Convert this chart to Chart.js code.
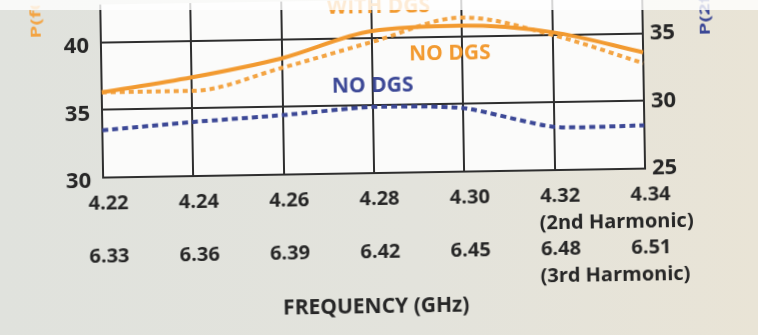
<!DOCTYPE html>
<html>
<head>
<meta charset="utf-8">
<script src="https://cdn.jsdelivr.net/npm/chart.js@4.4.1/dist/chart.umd.min.js"></script>
<style>
  html, body { margin: 0; padding: 0; }
  body {
    width: 758px; height: 335px; overflow: hidden; position: relative;
    background: linear-gradient(90deg, #e0e2dd 0%, #e3e3dc 55%, #e9e4d6 100%);
  }
  /* the scan is a little skewed, so the whole chart is turned by about one degree */
  #wrap { position: absolute; left: 0; top: 0; width: 758px; height: 335px; transform: rotate(-0.95deg); }
  #strip { position: absolute; left: 0; top: 0; width: 758px; height: 10px; background: rgba(255, 255, 255, 0.8); }
</style>
</head>
<body>
<div id="wrap"><canvas id="chart" width="758" height="335"></canvas></div>
<div id="strip"></div>
<script>
// data
const freqLabels = ['4.22', '4.24', '4.26', '4.28', '4.30', '4.32', '4.34'];
const thirdLabels = ['6.33', '6.36', '6.39', '6.42', '6.45', '6.48', '6.51'];
const harmonicNotes = ['(2nd Harmonic)', '(3rd Harmonic)'];
const withDgs = [36.3, 37.3, 38.6, 40.5, 40.8, 40.2, 38.6];
const noDgsFund = [36.3, 36.3, 37.9, 39.7, 41.4, 40.0, 37.8];
const noDgsHarm = [28.5, 29.0, 29.4, 29.9, 29.7, 28.2, 28.2];
const leftTicks = [30, 35, 40];
const rightTicks = [25, 30, 35];

const FONT = '"Open Sans", sans-serif';
const INK = '#262626';
const ORANGE = '#f29a30';
const ORANGE_LIGHT = '#f3a443';
const BLUE = '#3c4896';

// text tags placed in data coordinates (category index, axis value)
const seriesTags = [
    { text: 'WITH DGS', color: ORANGE, axis: 'y', at: 3.08, value: 42.3 },
    { text: 'NO DGS', color: ORANGE, axis: 'y', at: 3.86, value: 38.75 },
    { text: 'NO DGS', color: BLUE, axis: 'y2', at: 3.0, value: 31.4 }
];

const extras = {
    id: 'extras',
    beforeDraw(chart) {
        const a = chart.chartArea;
        const c = chart.ctx;
        c.save();
        c.fillStyle = '#fbfbfa';
        c.fillRect(a.left, a.top, a.right - a.left, a.bottom - a.top);
        c.restore();
    },
    afterDraw(chart) {
        const c = chart.ctx;
        const x = chart.scales.x;
        const bottom = chart.chartArea.bottom;
        c.save();
        c.textBaseline = 'middle';
        c.textAlign = 'center';
        c.font = 'bold 21px ' + FONT;
        seriesTags.forEach(t => {
            c.fillStyle = t.color;
            c.fillText(t.text, x.getPixelForValue(t.at), chart.scales[t.axis].getPixelForValue(t.value));
        });

        // harmonic notes under the last two columns
        c.fillStyle = INK;
        c.textAlign = 'left';
        c.font = 'bold 20px ' + FONT;
        const nx = x.getPixelForValue(5) - 16;
        c.fillText(harmonicNotes[0], nx, bottom + 53);
        c.fillText(harmonicNotes[1], nx, bottom + 106);

        // side titles, mostly cut off by the top of the scan
        c.font = 'bold 21px ' + FONT;
        c.translate(39, 33);
        c.rotate(-Math.PI / 2);
        c.scale(1, 0.7);
        c.fillStyle = ORANGE_LIGHT;
        c.fillText('P(f0) (dBm)', 0, 0);
        c.setTransform(1, 0, 0, 1, 0, 0);
        c.translate(708, 41);
        c.rotate(-Math.PI / 2);
        c.scale(1, 0.7);
        c.fillStyle = BLUE;
        c.fillText('P(2f0) (dBm)', 0, 0);
        c.restore();
    }
};

new Chart(document.getElementById('chart').getContext('2d'), {
    type: 'line',
    data: {
        labels: freqLabels,
        datasets: [
            {
                label: 'WITH DGS',
                data: withDgs,
                yAxisID: 'y',
                borderColor: ORANGE,
                borderWidth: 4,
                cubicInterpolationMode: 'monotone',
                pointRadius: 0
            },
            {
                label: 'NO DGS',
                data: noDgsFund,
                yAxisID: 'y',
                borderColor: ORANGE_LIGHT,
                borderWidth: 4,
                borderDash: [5, 4],
                cubicInterpolationMode: 'monotone',
                pointRadius: 0
            },
            {
                label: 'NO DGS (harmonic)',
                data: noDgsHarm,
                yAxisID: 'y2',
                borderColor: BLUE,
                borderWidth: 4,
                borderDash: [6, 4],
                tension: 0.2,
                pointRadius: 0
            }
        ]
    },
    options: {
        responsive: false,
        animation: false,
        layout: { padding: 0 },
        plugins: { legend: { display: false }, tooltip: { enabled: false } },
        scales: {
            x: {
                grid: { color: '#2e2e2e', lineWidth: 2, drawTicks: false },
                border: { color: '#2e2e2e', width: 2 },
                ticks: {
                    color: INK,
                    font: { family: FONT, size: 20, weight: 'bold', lineHeight: '53px' },
                    padding: 0,
                    labelOffset: 5,
                    maxRotation: 0,
                    autoSkip: false,
                    callback: (v, i) => [freqLabels[i], thirdLabels[i]]
                },
                title: {
                    display: true,
                    text: 'FREQUENCY (GHz)',
                    color: INK,
                    font: { family: FONT, size: 21, weight: 'bold' },
                    padding: { top: 0, bottom: 15 }
                },
                afterFit: s => { s.height = 162; s.paddingLeft = 0; s.paddingRight = 0; }
            },
            y: {
                position: 'left',
                min: 30,
                max: 42.8,
                afterBuildTicks: s => { s.ticks = leftTicks.map(v => ({ value: v })); },
                grid: { color: '#2e2e2e', lineWidth: 2, drawTicks: false },
                border: { color: '#2e2e2e', width: 2 },
                ticks: {
                    color: INK,
                    font: { family: FONT, size: 22, weight: 'bold' },
                    padding: 12,
                    labelOffset: 4
                },
                afterFit: s => { s.width = 103; s.paddingTop = 0; s.paddingBottom = 0; }
            },
            y2: {
                position: 'right',
                min: 25,
                max: 37.8,
                afterBuildTicks: s => { s.ticks = rightTicks.map(v => ({ value: v })); },
                grid: { display: false, drawTicks: false },
                border: { color: '#2e2e2e', width: 2 },
                ticks: {
                    color: INK,
                    font: { family: FONT, size: 22, weight: 'bold' },
                    padding: 7
                },
                afterFit: s => { s.width = 113; s.paddingTop = 0; s.paddingBottom = 0; }
            }
        }
    },
    plugins: [extras]
});
</script>
</body>
</html>
